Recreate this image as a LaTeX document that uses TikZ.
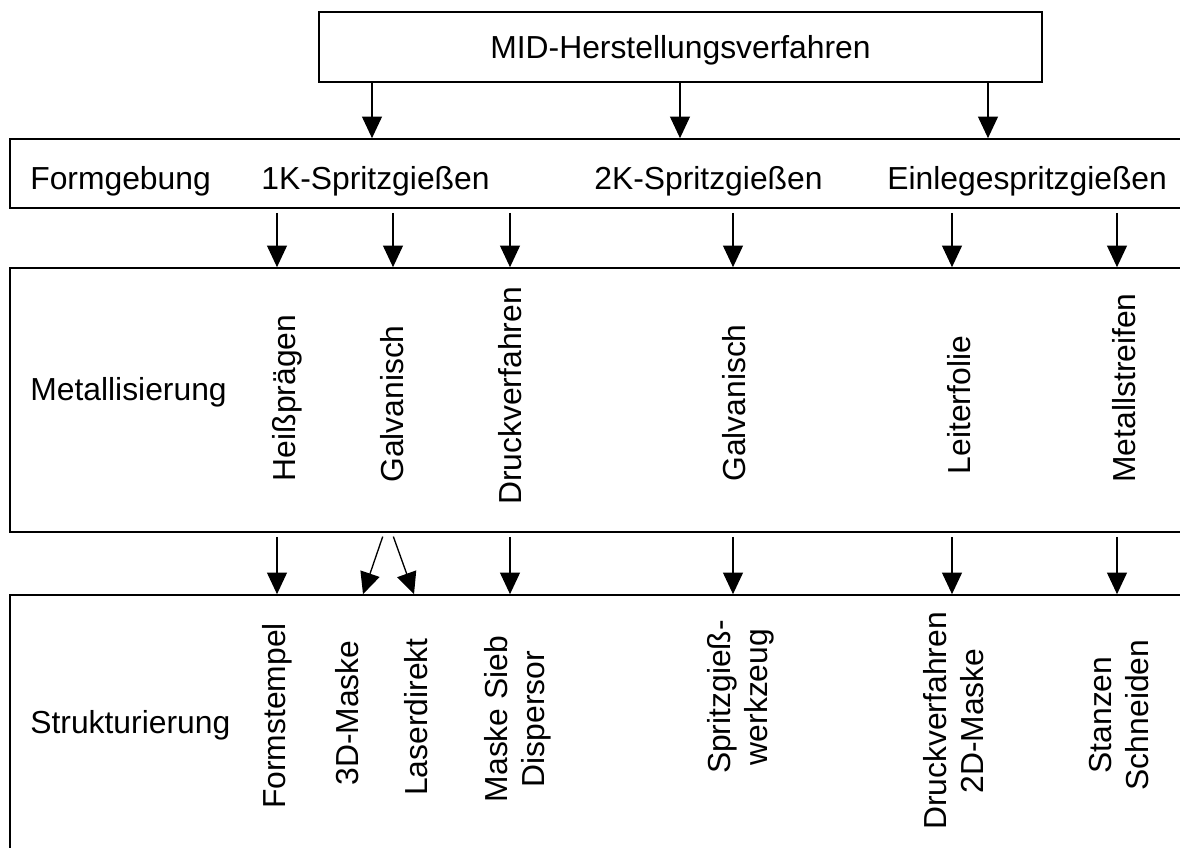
\documentclass[tikz,border=0pt]{standalone}
\usepackage{fontspec}
\setmainfont{Liberation Sans}
\usetikzlibrary{arrows.meta, positioning}
\tikzset{
    titlebox/.style={rectangle, draw, line width=1pt, minimum width=433.8pt, minimum height=42pt, inner sep=0pt, text height=17.2pt, text depth=4pt},
    rowbox/.style={rectangle, draw, line width=1pt, minimum width=714pt, inner sep=0pt},
    rowlabel/.style={anchor=base west, inner sep=0pt},
    vlabel/.style={rotate=90, anchor=base, inner sep=0pt},
    vblock/.style={rotate=90, align=center, inner sep=0pt},
    arrow/.style={-{Triangle[length=13pt, width=12pt]}, line width=0.8pt},
    gaparrow/.style={arrow, shorten <=2.4pt},
}

\begin{document}
\begin{tikzpicture}[x=0.6pt, y=-0.6pt, font=\fontsize{19.1}{22.5}\selectfont]
\useasboundingbox (0,0) rectangle (1180,847);
\clip (0,0) rectangle (1180,847);

% Main box and the three levels
\node[titlebox] (mid) at (680.5,47) {MID-Herstellungsverfahren};
\node[rowbox, minimum height=41.4pt] (form) at (605,173.5) {};
\node[rowbox, minimum height=158.4pt] (metall) at (605,400) {};
\node[rowbox, minimum height=165pt] (struk) at (605,732.5) {};

% Level names
\node[rowlabel] (formlabel) at (30,189) {Formgebung};
\node[rowlabel] (metalllabel) at (30,400) {Metallisierung};
\node[rowlabel] (struklabel) at (30,733) {Strukturierung};

% Formgebung
\node[rowlabel] (spritz1k) at (261,189) {1K-Spritzgießen};
\node[rowlabel] (spritz2k) at (594,189) {2K-Spritzgießen};
\node[rowlabel] (einlege) at (887,189) {Einlegespritzgießen};

% Metallisierung
\node[vlabel] (heiss) at (295,398) {Heißprägen};
\node[vlabel] (galv1) at (403,404) {Galvanisch};
\node[vlabel] (druck1) at (521,396) {Druckverfahren};
\node[vlabel] (galv2) at (745,403) {Galvanisch};
\node[vlabel] (leiter) at (970,405) {Leiterfolie};
\node[vlabel] (mstreif) at (1135,388) {Metallstreifen};

% Strukturierung
\node[vlabel] (fstempel) at (285,716) {Formstempel};
\node[vlabel] (maske3d) at (358,713) {3D-Maske};
\node[vlabel] (laser) at (427,717) {Laserdirekt};
\node[vblock] (sieb) at (518,719) {Maske Sieb\\Dispersor};
\node[vblock] (spritzwz) at (741,697) {Spritzgieß-\\werkzeug};
\node[vblock] (druck2) at (953.5,721) {Druckverfahren\\2D-Maske};
\node[vblock] (stanz) at (1119,715) {Stanzen\\Schneiden};

% Arrow columns
\coordinate (t1) at (372,0);
\coordinate (t2) at (680,0);
\coordinate (t3) at (988,0);
\coordinate (c1) at (277,0);
\coordinate (c2) at (393,0);
\coordinate (c3) at (510,0);
\coordinate (c4) at (733,0);
\coordinate (c5) at (952,0);
\coordinate (c6) at (1117,0);
\coordinate (gs1) at (384,0);
\coordinate (ge1) at (363,0);
\coordinate (gs2) at (392,0);
\coordinate (ge2) at (414,0);

% Arrows - Herstellung to Formgebung
\draw[arrow] (mid.south -| t1) -- (form.north -| t1);
\draw[arrow] (mid.south -| t2) -- (form.north -| t2);
\draw[arrow] (mid.south -| t3) -- (form.north -| t3);

% Arrows - Formgebung to Metallisierung
\draw[gaparrow] (form.south -| c1) -- (metall.north -| c1);
\draw[gaparrow] (form.south -| c2) -- (metall.north -| c2);
\draw[gaparrow] (form.south -| c3) -- (metall.north -| c3);
\draw[gaparrow] (form.south -| c4) -- (metall.north -| c4);
\draw[gaparrow] (form.south -| c5) -- (metall.north -| c5);
\draw[gaparrow] (form.south -| c6) -- (metall.north -| c6);

% Arrows - Metallisierung to Strukturierung
\draw[gaparrow] (metall.south -| c1) -- (struk.north -| c1);
\draw[gaparrow] (metall.south -| gs1) -- (struk.north -| ge1);
\draw[gaparrow] (metall.south -| gs2) -- (struk.north -| ge2);
\draw[gaparrow] (metall.south -| c3) -- (struk.north -| c3);
\draw[gaparrow] (metall.south -| c4) -- (struk.north -| c4);
\draw[gaparrow] (metall.south -| c5) -- (struk.north -| c5);
\draw[gaparrow] (metall.south -| c6) -- (struk.north -| c6);

\end{tikzpicture}
\end{document}
